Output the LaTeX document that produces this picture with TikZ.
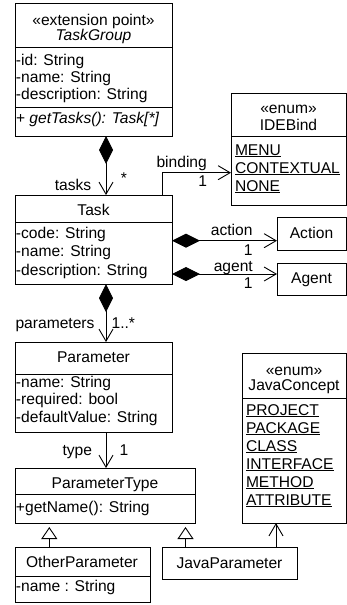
\documentclass[tikz,border=0pt]{standalone}
\usepackage{fontspec}
\setmainfont{Liberation Sans}
\usetikzlibrary{arrows.meta}
\newcommand\umlL[4]{\node[txt,anchor=west] (#1) at (#2,#3) {#4};}
\newcommand\umlC[4]{\node[txt] (#1) at (#2,#3) {#4};}
\newcommand\umlLbl[4]{\node[lbl] (#1) at (#2,#3) {#4};}
\begin{document}
\begin{tikzpicture}[x=1pt,y=-1pt,
  every node/.style={font=\fontsize{15.6}{17.6}\selectfont, inner sep=0pt, outer sep=0pt},
  txt/.style={text height=12pt, text depth=2pt},
  lbl/.style={text height=11pt, text depth=1pt},
  umlbox/.style={draw, line width=0.9pt, rectangle, anchor=north west},
  ln/.style={line width=0.9pt},
  assoc/.style={ln, -{Straight Barb[length=12pt,width=14pt]}},
  comp/.style={ln, {Diamond[length=28pt,width=14pt]}-{Straight Barb[length=12pt,width=14pt]}},
  gen/.style={ln, -{Triangle[open,length=12pt,width=16pt,fill=white]}, shorten >=4pt}]
\useasboundingbox (0,0) rectangle (347,605);

% boxes
\node[umlbox, minimum width=157pt, minimum height=133pt] (tg) at (15,3) {};
\node[umlbox, minimum width=157pt, minimum height=89pt] (task) at (15,195) {};
\node[umlbox, minimum width=115pt, minimum height=112pt] (ide) at (231,93) {};
\node[umlbox, minimum width=69pt, minimum height=33pt] (action) at (277,217) {};
\node[umlbox, minimum width=69pt, minimum height=32pt] (agent) at (277,263) {};
\node[umlbox, minimum width=157pt, minimum height=90pt] (param) at (15,342) {};
\node[umlbox, minimum width=180pt, minimum height=55pt] (ptype) at (15,468) {};
\node[umlbox, minimum width=135pt, minimum height=55pt] (other) at (15,547) {};
\node[umlbox, minimum width=135pt, minimum height=32pt] (javap) at (162,547) {};
\node[umlbox, minimum width=104pt, minimum height=170pt] (jc) at (242,353) {};

% dividers
\draw[ln] ([yshift=-44pt]tg.north west) -- ([yshift=-44pt]tg.north east);
\draw[ln] ([yshift=-104pt]tg.north west) -- ([yshift=-104pt]tg.north east);
\draw[ln] ([yshift=-27pt]task.north west) -- ([yshift=-27pt]task.north east);
\draw[ln] ([yshift=-43.5pt]ide.north west) -- ([yshift=-43.5pt]ide.north east);
\draw[ln] ([yshift=-32pt]param.north west) -- ([yshift=-32pt]param.north east);
\draw[ln] ([yshift=-26pt]ptype.north west) -- ([yshift=-26pt]ptype.north east);
\draw[ln] ([yshift=-29pt]other.north west) -- ([yshift=-29pt]other.north east);
\draw[ln] ([yshift=-45pt]jc.north west) -- ([yshift=-45pt]jc.north east);

% TaskGroup
\umlC{tg1}{93.5}{20}{«extension point»}
\umlC{tg2}{93.5}{35}{\itshape TaskGroup}
\umlL{tga}{16}{60}{-id: String}
\umlL{tgb}{16}{77}{-name: String}
\umlL{tgc}{16}{94}{-description: String}
\umlL{tgm}{16}{118.5}{\itshape + getTasks(): Task[*]}

% Task
\umlC{t1}{93.5}{210}{Task}
\umlL{ta}{16}{233.5}{-code: String}
\umlL{tb}{16}{251.5}{-name: String}
\umlL{tc}{16}{270}{-description: String}

% IDEBind
\umlC{i1}{288.5}{108}{«enum»}
\umlC{i2}{288.5}{125}{IDEBind}
\umlL{ia}{235}{150}{\underline{MENU}}
\umlL{ib}{235}{168}{\underline{CONTEXTUAL}}
\umlL{ic}{235}{186}{\underline{NONE}}

% Action, Agent
\umlC{ac}{311.5}{233}{Action}
\umlC{ag}{311.5}{278}{Agent}

% Parameter
\umlC{p1}{93.5}{357.5}{Parameter}
\umlL{pa}{16}{382}{-name: String}
\umlL{pb}{16}{399.5}{-required: bool}
\umlL{pc}{16}{417}{-defaultValue: String}

% ParameterType
\umlC{pt1}{105}{483}{ParameterType}
\umlL{pta}{16}{507.5}{+getName(): String}

% OtherParameter
\umlC{o1}{82}{562.7}{OtherParameter}
\umlL{oa}{16}{586}{-name : String}

% JavaParameter
\umlC{j1}{229.5}{563}{JavaParameter}

% JavaConcept
\umlC{jc1}{294}{370}{«enum»}
\umlC{jc2}{294}{385}{JavaConcept}
\umlL{jca}{246}{410}{\underline{PROJECT}}
\umlL{jcb}{246}{428}{\underline{PACKAGE}}
\umlL{jcc}{246}{446}{\underline{CLASS}}
\umlL{jcd}{246}{464}{\underline{INTERFACE}}
\umlL{jce}{246}{482}{\underline{METHOD}}
\umlL{jcf}{246}{500}{\underline{ATTRIBUTE}}

% connectors
\draw[comp] ([xshift=91pt]tg.south west) -- ([xshift=91pt]task.north west);
\draw[assoc] ([xshift=147pt]task.north west) |- ([yshift=-79.7pt]ide.north west);
\draw[comp] ([yshift=-45.7pt]task.north east) -- ([yshift=-23.7pt]action.north west);
\draw[comp] ([yshift=-79pt]task.north east) -- ([yshift=-11pt]agent.north west);
\draw[comp] ([xshift=91pt]task.south west) -- ([xshift=91pt]param.north west);
\draw[assoc] ([xshift=91pt]param.south west) -- ([xshift=91pt]ptype.north west);
\draw[gen] ([xshift=34.3pt]other.north west) -- ([xshift=34.3pt]ptype.south west);
\draw[gen] ([xshift=23.5pt]javap.north west) -- ([xshift=170.5pt]ptype.south west);
\draw[assoc] ([xshift=114pt]javap.north west) -- ([xshift=34pt]jc.south west);

% labels
\umlLbl{l1}{73}{185}{tasks}
\umlLbl{l2}{124}{178}{*}
\umlLbl{l3}{181.7}{162.7}{binding}
\umlLbl{l4}{202.7}{181.7}{1}
\umlLbl{l5}{231.7}{230.2}{action}
\umlLbl{l6}{248.3}{250.7}{1}
\umlLbl{l7}{233.3}{266}{agent}
\umlLbl{l8}{248.3}{283.8}{1}
\umlLbl{l9}{55}{323.3}{parameters}
\umlLbl{l10}{123.3}{323.3}{1..*}
\umlLbl{l11}{77.3}{450}{type}
\umlLbl{l12}{124}{450}{1}
\end{tikzpicture}
\end{document}
